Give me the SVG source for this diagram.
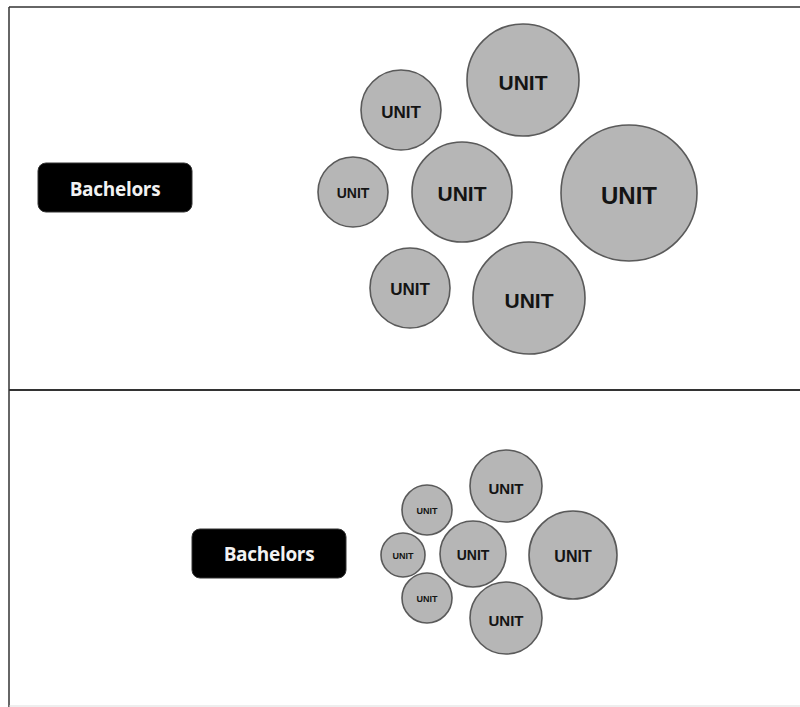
<svg xmlns="http://www.w3.org/2000/svg" width="800" height="707" viewBox="0 0 800 707">
<style>
.u circle{fill:#b6b6b6;stroke:#5a5a5a;stroke-width:1.6}
.u text{font-family:"Liberation Sans",Arial,sans-serif;font-weight:bold;fill:#141414;text-anchor:middle;dominant-baseline:central}
.b rect{fill:#000;stroke:#333;stroke-width:1}
.b text{font-family:"Open Sans","Liberation Sans",sans-serif;font-weight:bold;fill:#f2f2f2;font-size:19px;letter-spacing:-0.3px;text-anchor:middle;dominant-baseline:central}
.f{stroke:#333;fill:none}
</style>
<rect width="800" height="707" fill="#fff"/>
<g id="frame">
<line class="f" x1="9" y1="7" x2="800" y2="7" stroke-width="1.5"/>
<line class="f" x1="9" y1="7" x2="9" y2="707" stroke-width="1.5"/>
<line class="f" x1="9" y1="390" x2="800" y2="390" stroke-width="2"/>
<line x1="9" y1="706" x2="800" y2="706" stroke="#ddd" stroke-width="1"/>
</g>
<g id="bachelors-top" class="b"><rect x="38" y="163" width="154" height="49" rx="8"/><text x="115" y="189">Bachelors</text></g>
<g id="bachelors-bottom" class="b"><rect x="192" y="529" width="154" height="49" rx="8"/><text x="269" y="554">Bachelors</text></g>
<g id="t1" class="u"><circle cx="401" cy="110" r="40"/><text x="401" y="112" font-size="17">UNIT</text></g>
<g id="t2" class="u"><circle cx="523" cy="80" r="56"/><text x="523" y="82" font-size="21">UNIT</text></g>
<g id="t3" class="u"><circle cx="353" cy="192" r="35"/><text x="353" y="193" font-size="14">UNIT</text></g>
<g id="t4" class="u"><circle cx="462" cy="192" r="50"/><text x="462" y="193" font-size="21">UNIT</text></g>
<g id="t5" class="u"><circle cx="629" cy="193" r="68"/><text x="629" y="195" font-size="24">UNIT</text></g>
<g id="t6" class="u"><circle cx="410" cy="288" r="40"/><text x="410" y="289" font-size="17">UNIT</text></g>
<g id="t7" class="u"><circle cx="529" cy="298" r="56"/><text x="529" y="300" font-size="21">UNIT</text></g>
<g id="b1" class="u"><circle cx="427" cy="510" r="25"/><text x="427" y="511" font-size="9">UNIT</text></g>
<g id="b2" class="u"><circle cx="506" cy="486" r="36"/><text x="506" y="488" font-size="15">UNIT</text></g>
<g id="b3" class="u"><circle cx="403" cy="555" r="22"/><text x="403" y="556" font-size="9">UNIT</text></g>
<g id="b4" class="u"><circle cx="473" cy="554" r="33"/><text x="473" y="555" font-size="14">UNIT</text></g>
<g id="b5" class="u"><circle cx="573" cy="555" r="44"/><text x="573" y="556" font-size="16">UNIT</text></g>
<g id="b6" class="u"><circle cx="427" cy="598" r="25"/><text x="427" y="599" font-size="9">UNIT</text></g>
<g id="b7" class="u"><circle cx="506" cy="618" r="36"/><text x="506" y="620" font-size="15">UNIT</text></g>
</svg>
